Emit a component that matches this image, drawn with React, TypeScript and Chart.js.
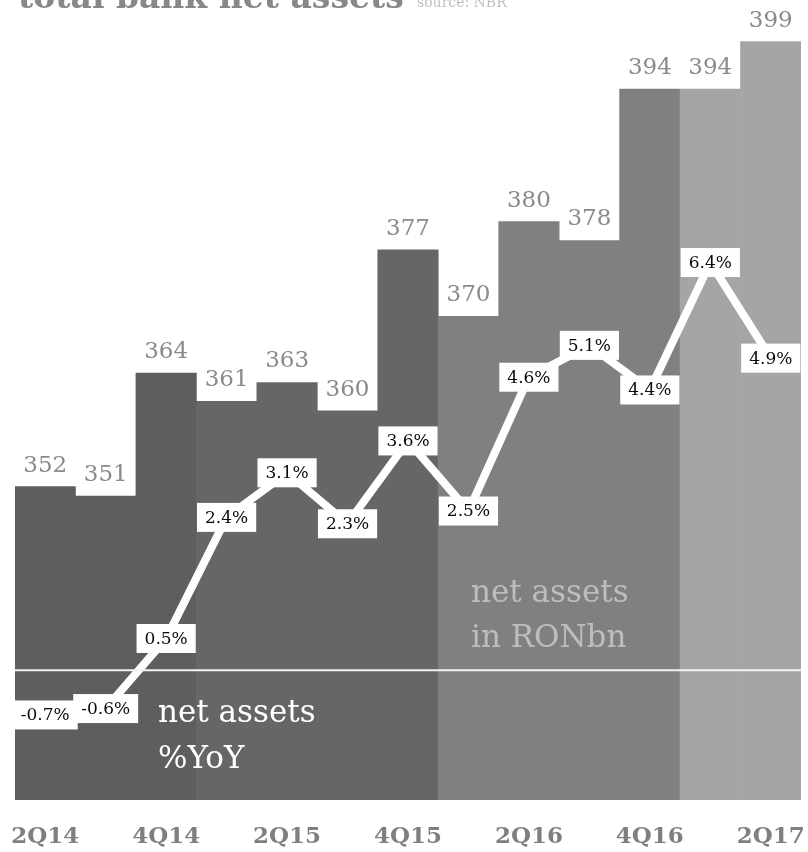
import React, { useEffect, useRef } from 'react';
import { Chart, registerables } from 'chart.js';

Chart.register(...registerables);

const categories = ['2Q14', '3Q14', '4Q14', '1Q15', '2Q15', '3Q15', '4Q15', '1Q16', '2Q16', '3Q16', '4Q16', '1Q17', '2Q17'];
const netAssets = [352, 351, 364, 361, 363, 360, 377, 370, 380, 378, 394, 394, 399];
const yoyGrowth = [-0.7, -0.6, 0.5, 2.4, 3.1, 2.3, 3.6, 2.5, 4.6, 5.1, 4.4, 6.4, 4.9];

const yearColors: Record<string, string> = {
  '14': '#5e5e5e',
  '15': '#666666',
  '16': '#808080',
  '17': '#a5a5a5',
};

const SERIF = '"DejaVu Serif", Georgia, serif';

const overlayPlugin = {
  id: 'overlay',
  afterDatasetsDraw(chart: any) {
    const { ctx, chartArea } = chart;
    const y2 = chart.scales.y2;
    ctx.save();
    // zero line
    const zy = y2.getPixelForValue(0);
    ctx.strokeStyle = '#f2f2f2';
    ctx.lineWidth = 2;
    ctx.beginPath();
    ctx.moveTo(chartArea.left, zy);
    ctx.lineTo(chartArea.right, zy);
    ctx.stroke();

    // bar value labels
    const barMeta = chart.getDatasetMeta(0);
    ctx.font = `23px ${SERIF}`;
    ctx.fillStyle = '#8a8a8a';
    ctx.textAlign = 'center';
    ctx.textBaseline = 'alphabetic';
    barMeta.data.forEach((el: any, i: number) => {
      ctx.fillText(String(netAssets[i]), el.x, el.y - 15);
    });

    // percent labels
    const lineMeta = chart.getDatasetMeta(1);
    ctx.font = `17px ${SERIF}`;
    ctx.textBaseline = 'middle';
    lineMeta.data.forEach((el: any, i: number) => {
      const txt = yoyGrowth[i].toFixed(1) + '%';
      const w = ctx.measureText(txt).width + 16;
      const h = 29;
      ctx.fillStyle = '#ffffff';
      ctx.fillRect(el.x - w / 2, el.y - h / 2, w, h);
      ctx.fillStyle = '#0a0a0a';
      ctx.fillText(txt, el.x, el.y + 1);
    });

    // annotations
    ctx.textAlign = 'left';
    ctx.textBaseline = 'alphabetic';
    ctx.font = `31px ${SERIF}`;
    ctx.fillStyle = '#ffffff';
    ctx.fillText('net assets', chartArea.left + 143, 722);
    ctx.fillText('%YoY', chartArea.left + 143, 768);
    ctx.fillStyle = '#bdbdbd';
    ctx.fillText('net assets', chartArea.left + 456, 602);
    ctx.fillText('in RONbn', chartArea.left + 456, 647);
    ctx.restore();
  },
  afterDraw(chart: any) {
    const { ctx } = chart;
    ctx.save();
    ctx.textAlign = 'left';
    ctx.textBaseline = 'alphabetic';
    ctx.font = `bold 33px ${SERIF}`;
    ctx.fillStyle = '#888888';
    ctx.fillText('total bank net assets', 18, 8);
    ctx.font = `14px ${SERIF}`;
    ctx.fillStyle = '#c0c0c0';
    ctx.fillText('source: NBR', 417, 7);
    ctx.restore();
  },
};

export default function App() {
  const canvasRef = useRef<HTMLCanvasElement | null>(null);

  useEffect(() => {
    document.body.style.margin = '0';
    const canvas = canvasRef.current;
    if (!canvas) return;
    const chart = new Chart(canvas, {
      type: 'bar',
      data: {
        labels: categories,
        datasets: [
          {
            type: 'bar',
            data: netAssets,
            backgroundColor: categories.map((c) => yearColors[c.slice(2)]),
            borderWidth: 0,
            barPercentage: 1,
            categoryPercentage: 1,
            yAxisID: 'y',
            order: 2,
          },
          {
            type: 'line',
            data: yoyGrowth,
            borderColor: '#ffffff',
            borderWidth: 8,
            pointRadius: 0,
            tension: 0,
            fill: false,
            yAxisID: 'y2',
            order: 1,
          } as any,
        ],
      },
      options: {
        responsive: true,
        maintainAspectRatio: false,
        animation: false,
        layout: { padding: { left: 15, right: 7, top: 0, bottom: 0 } },
        plugins: {
          legend: { display: false },
          tooltip: { enabled: false },
          title: { display: false },
        },
        scales: {
          x: {
            grid: { display: false },
            border: { display: false },
            afterFit: (scale: any) => {
              scale.paddingLeft = 0;
              scale.paddingRight = 0;
              scale.height = 52;
            },
            ticks: {
              autoSkip: false,
              maxRotation: 0,
              padding: 15,
              color: '#7f7f7f',
              font: { family: SERIF, size: 23, weight: 'bold' },
              callback: (_v: any, i: number) => (i % 2 === 0 ? categories[i] : ''),
            },
          },
          y: {
            display: false,
            min: 318.9,
            max: 403.4,
          },
          y2: {
            display: false,
            min: -2.035,
            max: 10.52,
          },
        },
      },
      plugins: [overlayPlugin],
    });
    return () => chart.destroy();
  }, []);

  return (
    <div style={{ position: 'relative', width: 808, height: 852 }}>
      <canvas ref={canvasRef} />
    </div>
  );
}
